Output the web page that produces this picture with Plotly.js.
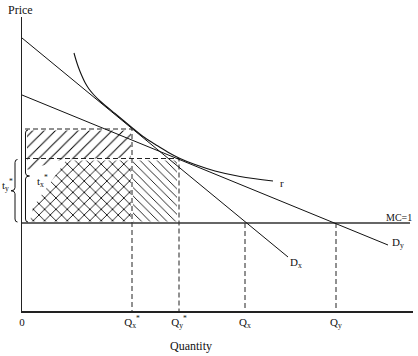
<!DOCTYPE html>
<html><head><meta charset="utf-8">
<script src="https://cdn.plot.ly/plotly-3.0.1.min.js"></script>
<style>html,body{margin:0;padding:0;background:#fff;}#chart{width:418px;height:356px;}</style>
</head><body><div id="chart"></div>
<script>
// Demand curves (quantity, price)
const dxQ = [0, 266];
const dxP = [273, 54];
const dyQ = [0, 366];
const dyP = [216, 66];
// Marginal cost line
const mc = 88;
const mcQ = [0, 388];
const mcP = [mc, mc];
// Iso-profit curve r
const rQ = [52, 54, 56.5, 59.5, 63, 67, 72, 78, 85, 93, 102, 111, 121, 133, 146, 158, 173, 193, 218, 251];
const rP = [258, 251, 243.5, 236, 228.5, 222, 216, 210, 204, 197.5, 190, 182.5, 174.5, 166.8, 158.8, 152.5, 146.4, 140, 134.5, 130];
// Optimum (taxed) quantities and prices for x and y
const qStar = [110, 157];
const pStar = [182, 152.5];
// Competitive quantities (P = MC) for x and y
const qComp = [223, 314];
// Tick labels
const tickVals = [0, qStar[0], qStar[1], qComp[0], qComp[1]];
const tickText = ['0', 'Q<sub>x</sub><sup>*</sup>', 'Q<sub>y</sub><sup>*</sup>', 'Q<sub>x</sub>', 'Q<sub>y</sub>'];

const FONT = '"Liberation Serif", "Times New Roman", serif';
const black = '#111';
const dashStyle = {color: '#222', width: 1, dash: '5px,3px'};

function line(x, y, ln, extra) {
  return Object.assign({type: 'scatter', mode: 'lines', x: x, y: y, line: ln, hoverinfo: 'skip', showlegend: false}, extra || {});
}
function patch(x, y, shape, size, sol) {
  return {type: 'scatter', mode: 'lines', x: x, y: y, fill: 'toself', line: {width: 0, color: 'rgba(0,0,0,0)'},
    fillcolor: 'rgba(0,0,0,0)', fillpattern: {shape: shape, size: size, solidity: sol, fgcolor: '#000', bgcolor: 'rgba(0,0,0,0)'},
    hoverinfo: 'skip', showlegend: false};
}

const x0 = 5;       // left inset of hatched patches
const cutX = 40, cutY = mc + 20;
const traces = [
  // top "/" hatched area
  patch([x0, qStar[0] - 1, qStar[0] - 1, cutX, x0 + 3, x0], [pStar[0] - 1.5, pStar[0] - 1.5, pStar[1] + 1, pStar[1] - 1, pStar[1] - 11, pStar[1] - 11], '/', 8, 0.12),
  // cross-hatched area
  patch([x0 + 3, qStar[0] - 1, qStar[0] - 1, cutX + 4, x0 + 6, x0 + 3], [mc + 1.5, mc + 1.5, pStar[1] - 2, pStar[1] - 2, cutY - 4, mc + 1.5], 'x', 8, 0.2),
  // right "\" hatched area
  patch([qStar[0] + 1, qStar[1] - 2, qStar[1] - 2, qStar[0] + 1], [mc + 1.5, mc + 1.5, pStar[1] - 2, pStar[1] - 2], '\\', 6, 0.14),
  // dashed guide lines
  line([3, qStar[0], qStar[0]], [pStar[0], pStar[0], 0], dashStyle),
  line([3, qStar[1], qStar[1]], [pStar[1], pStar[1], 0], dashStyle),
  line([qComp[0], qComp[0]], [mc, 0], dashStyle),
  line([qComp[1], qComp[1]], [mc, 0], dashStyle),
  // MC line
  line(mcQ, mcP, {color: '#333', width: 1.5}),
  // demand curves
  line(dxQ, dxP, {color: black, width: 1}),
  line(dyQ, dyP, {color: black, width: 1}),
  // iso-profit curve
  line(rQ, rP, {color: black, width: 1.1, shape: 'spline', smoothing: 1})
];

// curly braces marking the taxes
function brace(xBase, dir, yLo, yHi) {
  const p = v => ((v - 22) / 391).toFixed(5);
  const ym = (yLo + yHi) / 2, r = 3;
  const xe = p(xBase + 2.5), xb = p(xBase), xt = p(xBase + dir * 4);
  return `M${xe},${yHi} Q${xb},${yHi} ${xb},${yHi - r} L${xb},${ym + r} Q${xb},${ym} ${xt},${ym} ` +
         `Q${xb},${ym} ${xb},${ym - r} L${xb},${yLo + r} Q${xb},${yLo} ${xe},${yLo}`;
}

const ann = (x, y, text, size, extra) => Object.assign({x: x, y: y, xref: 'x', yref: 'y', text: text, showarrow: false,
  xanchor: 'center', yanchor: 'middle',
  font: {family: FONT, size: size || 11, color: black}}, extra || {});
const pann = (x, y, text, size) => ann(x, y, text, size, {xref: 'paper', yref: 'paper'});

const layout = {
  width: 418, height: 356,
  margin: {l: 22, r: 5, t: 17, b: 45},
  paper_bgcolor: '#fff', plot_bgcolor: '#fff',
  font: {family: FONT, color: black},
  showlegend: false,
  xaxis: {range: [0, 391], showgrid: false, zeroline: false, showline: true, linecolor: '#222', linewidth: 1.5,
    tickmode: 'array', tickvals: tickVals, ticktext: tickText, ticks: '', tickfont: {family: FONT, size: 11, color: black}, fixedrange: true},
  yaxis: {range: [0, 294], showgrid: false, zeroline: false, showline: true, linecolor: '#222', linewidth: 1.5,
    showticklabels: false, ticks: '', fixedrange: true},
  shapes: [
    {type: 'path', xref: 'paper', yref: 'y', path: brace(15, -1, mc + 1, pStar[1] - 1), line: {color: black, width: 1}},
    {type: 'path', xref: 'paper', yref: 'y', path: brace(25.5, 1, mc + 1, pStar[0] - 1), line: {color: black, width: 1}}
  ],
  annotations: [
    pann(-0.005, 1.024, 'Price', 12),
    pann(0.432, -0.119, 'Quantity', 12),
    pann(-0.036, 0.43, 't<sub>y</sub><sup>*</sup>', 11),
    ann(260, 128, 'r', 11),
    ann(274, 48, 'D<sub>x</sub>', 11),
    ann(376, 68, 'D<sub>y</sub>', 11),
    ann(377, 94, 'MC=1', 10),
    ann(20, 130, 't<sub>x</sub><sup>*</sup>', 11)
  ]
};

Plotly.newPlot('chart', traces, layout, {displayModeBar: false, staticPlot: true});
</script>
</body></html>
